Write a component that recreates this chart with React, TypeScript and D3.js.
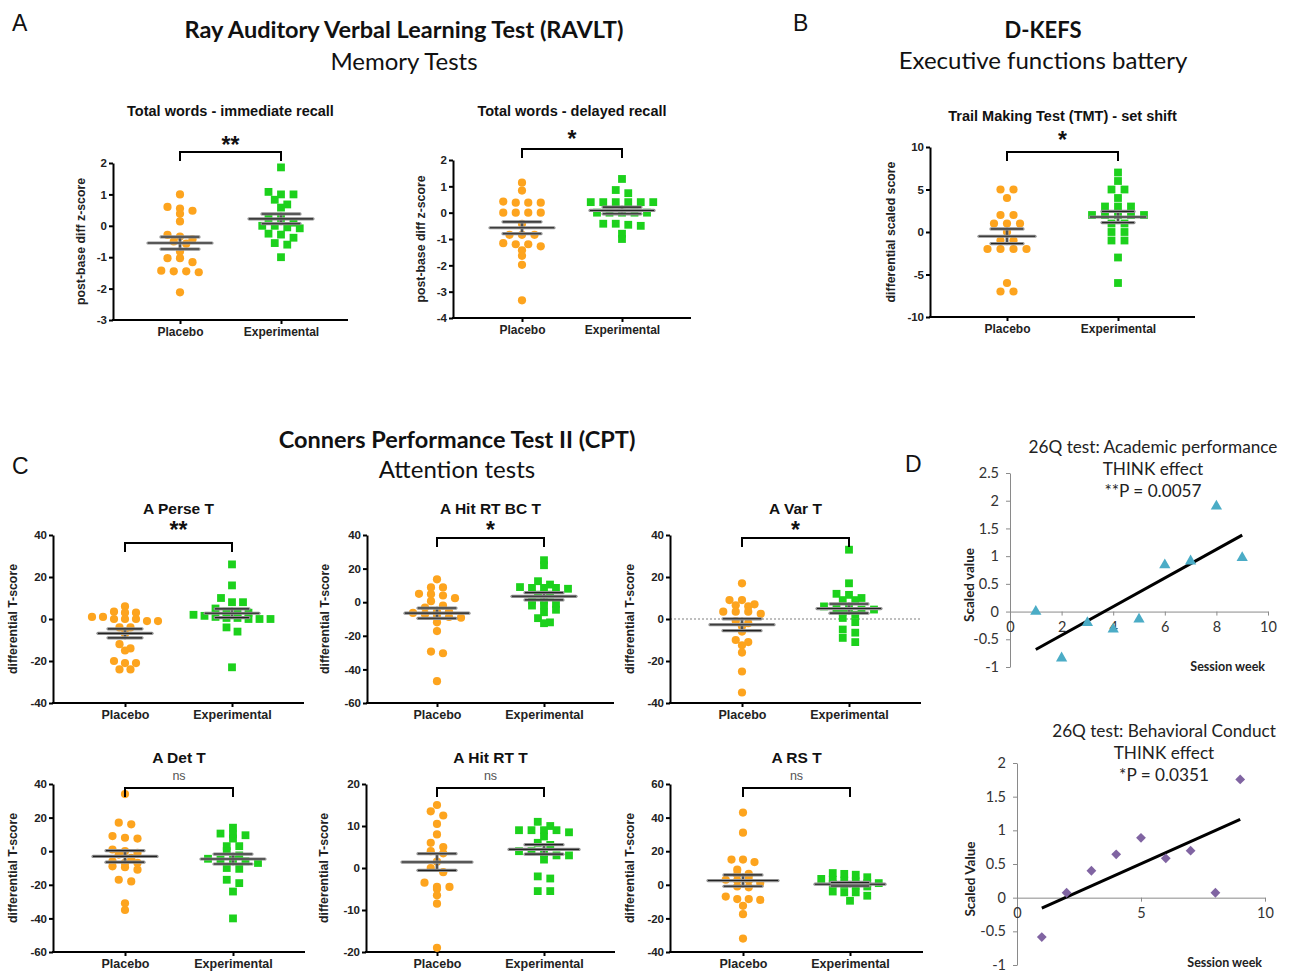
import React, { useEffect, useRef } from "react";
import * as d3 from "d3";

const groups = ["Placebo", "Experimental"];

// RAVLT - immediate recall
const immPlacebo = [1.0, 0.6, 0.55, 0.48, 0.38, 0.14, -0.29, -0.34, -0.43, -0.5, -0.57, -0.82, -1.03, -1.03, -1.16, -1.43, -1.45, -1.45, -1.48, -2.12];
const immExperimental = [1.86, 1.08, 1.0, 1.0, 0.83, 0.68, 0.58, 0.25, 0.25, 0.1, 0.0, 0.0, -0.05, -0.08, -0.25, -0.28, -0.38, -0.55, -0.6, -1.0];

// RAVLT - delayed recall
const delPlacebo = [1.14, 0.84, 0.42, 0.38, 0.38, 0.38, 0, 0, 0, 0, -0.42, -0.84, -0.84, -0.84, -1.16, -1.2, -1.2, -1.28, -1.43, -1.64, -1.98, -3.33];
const delExperimental = [1.28, 0.86, 0.74, 0.4, 0.4, 0.4, 0.4, 0.4, 0.4, 0, 0, 0, 0, 0, -0.42, -0.42, -0.46, -0.5, -0.8, -1.0];

// D-KEFS TMT set shift
const tmtPlacebo = [5, 5, 4, 2, 2, 1, 1, 1, 0, -1, -1, -2, -2, -2, -2, -6, -7, -7];
const tmtExperimental = [7, 6, 5, 5, 4, 3, 3, 3, 2, 2, 2, 2, 2, 1, 1, 0, 0, -1, -1, -3, -6];

// CPT II
const perseP = [6, 3.5, 3, 3, 1, 1, 0, 0, 0, -1, -1, -4, -4, -7, -12, -14, -15, -20, -21, -21, -24, -24];
const perseE = [26, 16, 10, 8, 8, 5, 3.5, 3, 3, 2, 1.5, 1, 0.5, 0.5, 0, 0, 0, -4, -6, -23];
const hitBcP = [13.6, 8.8, 8.8, 5, 4.8, 4, 2.4, 0.6, -2, -3.2, -5.6, -5.6, -6.4, -7.2, -7.6, -8.8, -9.2, -12, -17.2, -29.4, -30.4, -47];
const hitBcE = [25, 22, 12.5, 10.5, 9, 8.5, 8.5, 8.5, 8, 4.5, 4.5, 1, 1, -1, -2, -2, -4.5, -6, -9.5, -12, -12.5];
const varP = [17, 9, 9, 7, 6.5, 6, 3.5, 3.5, 3.5, 2.5, -1, -2, -3.5, -6, -10, -11, -12.5, -16, -25, -35];
const varE = [33, 17, 12, 11.5, 10, 9, 9, 6, 5, 5, 4.5, 4.5, 3.5, 2, 0.5, -1.5, -5, -6.5, -9, -11];
const detP = [34, 17, 16, 9, 8, 7.5, 1, 0, -1, -2, -4, -6, -7, -7, -9, -9.5, -11, -17, -18, -31, -35];
const detE = [14, 10.5, 10, 9.5, 7.5, 3, 3, 0, -2.5, -4.5, -5, -5, -6, -7, -10, -10.5, -17, -19, -24, -40];
const hitP = [15, 13.5, 12.5, 10.5, 8, 6, 5, 4, 3.5, 1.5, 0, -1, -3.5, -4.5, -4.5, -5, -6.5, -8.5, -19];
const hitE = [11, 10, 9, 9, 9, 9, 8.5, 7.5, 6, 5.5, 4, 4, 3.5, 3, 3, 2, -2, -2.5, -5.5, -5.5];
const rsP = [43, 31, 15, 15, 13.5, 9, 6.5, 6, 5, 3, 2.5, 2.5, 1, -1, -1.5, -7, -8.5, -8.5, -9, -12.5, -17.5, -32];
const rsE = [7, 6.5, 6, 4.5, 3.5, 3, 2.5, 2, 1, 1, 0.5, 0, -0.5, -1, -4, -4.5, -4.5, -6.5, -9.5];

// 26Q test
const weeks = [1, 2, 3, 4, 5, 6, 7, 8, 9];
const academic = [0, -0.84, -0.2, -0.32, -0.14, 0.84, 0.91, 1.9, 0.97];
const conduct = [-0.585, 0.073, 0.4, 0.644, 0.888, 0.585, 0.698, 0.073, 1.756];

const ARIAL = "'Liberation Sans', Arial, sans-serif";
const CAL = "Lato, 'Open Sans', sans-serif";
const ORANGE = "#FDA41E";
const GREEN = "#1CD11C";

const dotPlots = [
  { title: "Total words - immediate recall", x0: 113, catL: 67, gap: 101, yTop: 163, yBot: 320, domain: [-3, 2], step: 1, titleY: 116, titleSize: 14.5, ylabel: "post-base diff z-score", ylabOff: 28, sig: "**", bracketY: 152, sigY: 153, placebo: immPlacebo, experimental: immExperimental, meanHalf: 32, semHalf: 19, dx: 12.5, xSize: 12 },
  { title: "Total words - delayed recall", x0: 453, catL: 69, gap: 100, yTop: 160, yBot: 318, domain: [-4, 2], step: 1, titleY: 116, titleSize: 14.5, ylabel: "post-base diff z-score", ylabOff: 28, sig: "*", bracketY: 149, sigY: 147, placebo: delPlacebo, experimental: delExperimental, meanHalf: 32, semHalf: 19, dx: 12.5, xSize: 12 },
  { title: "Trail Making Test (TMT) - set shift", x0: 930, catL: 77, gap: 111, yTop: 147, yBot: 317, domain: [-10, 10], step: 5, titleY: 121, titleSize: 14.5, ylabel: "differential scaled score", ylabOff: 35, sig: "*", bracketY: 152, sigY: 148, placebo: tmtPlacebo, experimental: tmtExperimental, meanHalf: 28, semHalf: 16, dx: 13, xSize: 12 },
  { title: "A Perse T", x0: 53, catL: 72, gap: 107, yTop: 535, yBot: 703, domain: [-40, 40], step: 20, titleY: 514, titleSize: 15.5, ylabel: "differential T-score", ylabOff: 36, sig: "**", bracketY: 543, sigY: 538, placebo: perseP, experimental: perseE, meanHalf: 27, semHalf: 17, dx: 11, xSize: 12.5 },
  { title: "A Hit RT BC T", x0: 367, catL: 70, gap: 107, yTop: 535, yBot: 703, domain: [-60, 40], step: 20, titleY: 514, titleSize: 15.5, ylabel: "differential T-score", ylabOff: 38, sig: "*", bracketY: 538, sigY: 538, placebo: hitBcP, experimental: hitBcE, meanHalf: 32, semHalf: 19, dx: 12, xSize: 12.5 },
  { title: "A Var T", x0: 670, catL: 72, gap: 107, yTop: 535, yBot: 703, domain: [-40, 40], step: 20, titleY: 514, titleSize: 15.5, ylabel: "differential T-score", ylabOff: 36, sig: "*", bracketY: 538, sigY: 538, placebo: varP, experimental: varE, meanHalf: 32, semHalf: 19, dx: 12.5, xSize: 12.5, zeroLine: true },
  { title: "A Det T", x0: 53, catL: 72, gap: 108, yTop: 784, yBot: 952, domain: [-60, 40], step: 20, titleY: 763, titleSize: 15.5, ylabel: "differential T-score", ylabOff: 36, sig: "ns", bracketY: 788, sigY: 780, placebo: detP, experimental: detE, meanHalf: 32, semHalf: 19, dx: 12.5, xSize: 12.5 },
  { title: "A Hit RT T", x0: 366, catL: 71, gap: 107, yTop: 784, yBot: 952, domain: [-20, 20], step: 10, titleY: 763, titleSize: 15.5, ylabel: "differential T-score", ylabOff: 38, sig: "ns", bracketY: 788, sigY: 780, placebo: hitP, experimental: hitE, meanHalf: 35, semHalf: 19, dx: 12.5, xSize: 12.5 },
  { title: "A RS T", x0: 670, catL: 73, gap: 107, yTop: 784, yBot: 952, domain: [-40, 60], step: 20, titleY: 763, titleSize: 15.5, ylabel: "differential T-score", ylabOff: 36, sig: "ns", bracketY: 788, sigY: 780, placebo: rsP, experimental: rsE, meanHalf: 35, semHalf: 19, dx: 11.5, xSize: 12.5 },
];

const regPanels = [
  { lines: ["26Q test: Academic performance", "THINK effect", "**P = 0.0057"], titleX: 1153, titleY: 453, x0: 1010, x1: 1268, yTop: 473, yBot: 667, yDomain: [-1, 2.5], xTicks: [0, 2, 4, 6, 8, 10], values: academic, color: "#4BACC6", shape: "triangle", ylabel: "Scaled value", ylabX: 974, labelY: 671 },
  { lines: ["26Q test: Behavioral Conduct", "THINK effect", "*P = 0.0351"], titleX: 1164, titleY: 737, x0: 1017, x1: 1265, yTop: 763, yBot: 965, yDomain: [-1, 2], xTicks: [0, 5, 10], values: conduct, color: "#8064A2", shape: "diamond", ylabel: "Scaled Value", ylabX: 975, labelY: 967 },
];

function swarm(values: number[], y: any, cx: number, rowH: number, dx: number) {
  const pts = values.map((v) => ({ v, py: y(v) })).sort((a, b) => a.py - b.py);
  const rows: any[][] = [];
  let cur: any[] = [];
  let start = -Infinity;
  pts.forEach((p) => {
    if (p.py - start > rowH) {
      if (cur.length) rows.push(cur);
      cur = [p];
      start = p.py;
    } else cur.push(p);
  });
  if (cur.length) rows.push(cur);
  const out: any[] = [];
  rows.forEach((r) => r.forEach((p, i) => out.push({ ...p, px: cx + (i - (r.length - 1) / 2) * dx })));
  return out;
}

function drawDotPlot(svg: any, p: any) {
  const g = svg.append("g");
  const x = d3.scalePoint().domain(groups).range([p.x0 + p.catL, p.x0 + p.catL + p.gap]);
  const xEnd = p.x0 + 2 * p.catL + p.gap;
  const y = d3.scaleLinear().domain(p.domain).range([p.yBot, p.yTop]);

  if (p.zeroLine) {
    g.append("line").attr("x1", p.x0).attr("x2", xEnd).attr("y1", y(0)).attr("y2", y(0))
      .attr("stroke", "#aaa").attr("stroke-width", 1.5).attr("stroke-dasharray", "2,2");
  }

  const ticks = d3.range(p.domain[0], p.domain[1] + 1e-9, p.step);
  const ya = g.append("g").attr("transform", `translate(${p.x0},0)`)
    .call(d3.axisLeft(y).tickValues(ticks).tickFormat((d: any) => String(d)).tickSize(4).tickSizeOuter(0).tickPadding(2));
  ya.select(".domain").attr("stroke", "#000").attr("stroke-width", 2);
  ya.selectAll(".tick line").attr("stroke-width", 2);
  ya.selectAll("text").attr("font-family", ARIAL).attr("font-weight", "bold").attr("font-size", 11.5).attr("fill", "#222");

  const xa = g.append("g").attr("transform", `translate(0,${p.yBot})`)
    .call(d3.axisBottom(x).tickSize(4).tickPadding(3));
  xa.select(".domain").remove();
  xa.selectAll(".tick line").attr("stroke-width", 2);
  xa.selectAll("text").attr("font-family", ARIAL).attr("font-weight", "bold").attr("font-size", p.xSize).attr("fill", "#222");
  g.append("line").attr("x1", p.x0 - 1).attr("x2", xEnd).attr("y1", p.yBot).attr("y2", p.yBot)
    .attr("stroke", "#000").attr("stroke-width", 2);

  // points
  const pl = swarm(p.placebo, y, x("Placebo")!, 5, p.dx);
  g.selectAll(".pc").data(pl).enter().append("circle")
    .attr("cx", (d: any) => d.px).attr("cy", (d: any) => d.py).attr("r", 4.1).attr("fill", ORANGE);
  const ex = swarm(p.experimental, y, x("Experimental")!, 5, p.dx);
  g.selectAll(".ps").data(ex).enter().append("rect")
    .attr("x", (d: any) => d.px - 3.9).attr("y", (d: any) => d.py - 3.9).attr("width", 7.8).attr("height", 7.8).attr("fill", GREEN);

  // mean +/- SEM
  [p.placebo, p.experimental].forEach((vals: number[], i: number) => {
    const cx = x(groups[i])!;
    const m = d3.mean(vals)!;
    const sem = d3.deviation(vals)! / Math.sqrt(vals.length);
    const segs = [
      [cx, y(m - sem), cx, y(m + sem)],
      [cx - p.meanHalf, y(m), cx + p.meanHalf, y(m)],
      [cx - p.semHalf, y(m + sem), cx + p.semHalf, y(m + sem)],
      [cx - p.semHalf, y(m - sem), cx + p.semHalf, y(m - sem)],
    ];
    segs.forEach((s) => {
      g.append("line").attr("x1", s[0]).attr("y1", s[1]).attr("x2", s[2]).attr("y2", s[3])
        .attr("stroke", "#8f8f8f").attr("stroke-width", 3.2).attr("stroke-linecap", "round");
      g.append("line").attr("x1", s[0]).attr("y1", s[1]).attr("x2", s[2]).attr("y2", s[3])
        .attr("stroke", "#222").attr("stroke-width", 1.1);
    });
  });

  // significance bracket
  const xp = x("Placebo")!;
  const xe = x("Experimental")!;
  g.append("path").attr("d", `M${xp},${p.bracketY + 9}V${p.bracketY}H${xe}V${p.bracketY + 9}`)
    .attr("fill", "none").attr("stroke", "#000").attr("stroke-width", 2);
  const ns = p.sig === "ns";
  g.append("text").attr("x", (xp + xe) / 2).attr("y", p.sigY).attr("text-anchor", "middle")
    .attr("font-family", ARIAL).attr("font-weight", ns ? "normal" : "bold")
    .attr("font-size", ns ? 12.5 : 23).attr("fill", ns ? "#555" : "#111").text(p.sig);

  // title
  g.append("text").attr("x", (xp + xe) / 2).attr("y", p.titleY).attr("text-anchor", "middle")
    .attr("font-family", ARIAL).attr("font-weight", "bold").attr("font-size", p.titleSize).attr("fill", "#111").text(p.title);

  // y label
  g.append("text").attr("transform", `translate(${p.x0 - p.ylabOff},${(p.yTop + p.yBot) / 2}) rotate(-90)`)
    .attr("text-anchor", "middle").attr("font-family", ARIAL).attr("font-weight", "bold").attr("font-size", 12.3)
    .attr("fill", "#222").text(p.ylabel);
}

function drawRegression(svg: any, q: any) {
  const g = svg.append("g");
  const x = d3.scaleLinear().domain([0, 10]).range([q.x0, q.x1]);
  const y = d3.scaleLinear().domain(q.yDomain).range([q.yBot, q.yTop]);

  const ya = g.append("g").attr("transform", `translate(${q.x0},0)`)
    .call(d3.axisLeft(y).tickValues(d3.range(q.yDomain[0], q.yDomain[1] + 1e-9, 0.5)).tickFormat((d: any) => String(d)).tickSize(4).tickSizeOuter(0).tickPadding(7));
  ya.selectAll("path, line").attr("stroke", "#8a8a8a");
  ya.selectAll("text").attr("font-family", CAL).attr("font-size", 14.5).attr("fill", "#333");

  const xa = g.append("g").attr("transform", `translate(0,${y(0)})`)
    .call(d3.axisBottom(x).tickValues(q.xTicks).tickFormat((d: any) => String(d)).tickSize(4).tickSizeOuter(0).tickPadding(6));
  xa.selectAll("path, line").attr("stroke", "#8a8a8a");
  xa.selectAll("text").attr("font-family", CAL).attr("font-size", 14.5).attr("fill", "#333");

  // least squares fit
  const mx = d3.mean(weeks)!;
  const my = d3.mean(q.values as number[])!;
  let sxy = 0;
  let sxx = 0;
  weeks.forEach((w, i) => {
    sxy += (w - mx) * (q.values[i] - my);
    sxx += (w - mx) * (w - mx);
  });
  const slope = sxy / sxx;
  const w0 = d3.min(weeks)!;
  const w1 = d3.max(weeks)!;
  g.append("line").attr("x1", x(w0)).attr("y1", y(my + slope * (w0 - mx)))
    .attr("x2", x(w1)).attr("y2", y(my + slope * (w1 - mx)))
    .attr("stroke", "#000").attr("stroke-width", 3);

  const sym = q.shape === "triangle" ? d3.symbol(d3.symbolTriangle, 55) : d3.symbol(d3.symbolSquare, 48);
  g.selectAll(".m").data(weeks).enter().append("path")
    .attr("d", sym as any)
    .attr("transform", (w: number, i: number) => `translate(${x(w)},${y(q.values[i])})${q.shape === "diamond" ? " rotate(45)" : ""}`)
    .attr("fill", q.color);

  q.lines.forEach((t: string, i: number) => {
    g.append("text").attr("x", q.titleX).attr("y", q.titleY + i * 22).attr("text-anchor", "middle")
      .attr("font-family", CAL).attr("font-size", 17.2).attr("fill", "#222").text(t);
  });
  g.append("text").attr("x", q.x1 - 3).attr("y", q.labelY).attr("text-anchor", "end")
    .attr("font-family", CAL).attr("font-weight", "bold").attr("font-size", 12.5).attr("fill", "#222").text("Session week");
  g.append("text").attr("transform", `translate(${q.ylabX},${(q.yTop + q.yBot) / 2 + 15}) rotate(-90)`)
    .attr("text-anchor", "middle").attr("font-family", CAL).attr("font-weight", "bold").attr("font-size", 13.5)
    .attr("fill", "#222").text(q.ylabel);
}

export default function App() {
  const ref = useRef<SVGSVGElement>(null);
  useEffect(() => {
    const svg = d3.select(ref.current);
    svg.selectAll("*").remove();

    const heading = (t: string, xx: number, yy: number, bold: boolean, size: number) =>
      svg.append("text").attr("x", xx).attr("y", yy).attr("text-anchor", "middle")
        .attr("font-family", CAL).attr("font-weight", bold ? "bold" : "normal").attr("font-size", size).attr("fill", "#111").text(t);
    heading("Ray Auditory Verbal Learning Test (RAVLT)", 404, 38, true, 23.5);
    heading("Memory Tests", 404, 70, false, 24);
    heading("D-KEFS", 1043, 38, true, 22);
    heading("Executive functions battery", 1043, 69, false, 24);
    heading("Conners Performance Test II (CPT)", 457, 448, true, 23.5);
    heading("Attention tests", 457, 478, false, 24);

    const letter = (t: string, xx: number, yy: number) =>
      svg.append("text").attr("x", xx).attr("y", yy).attr("font-family", ARIAL).attr("font-size", 23).attr("fill", "#111").text(t);
    letter("A", 12, 31);
    letter("B", 793, 31);
    letter("C", 12, 474);
    letter("D", 905, 472);

    dotPlots.forEach((p) => drawDotPlot(svg, p));
    regPanels.forEach((q) => drawRegression(svg, q));
  }, []);
  return <svg ref={ref} width={1292} height={973} style={{ position: "absolute", left: 0, top: 0, background: "#fff" }} />;
}
